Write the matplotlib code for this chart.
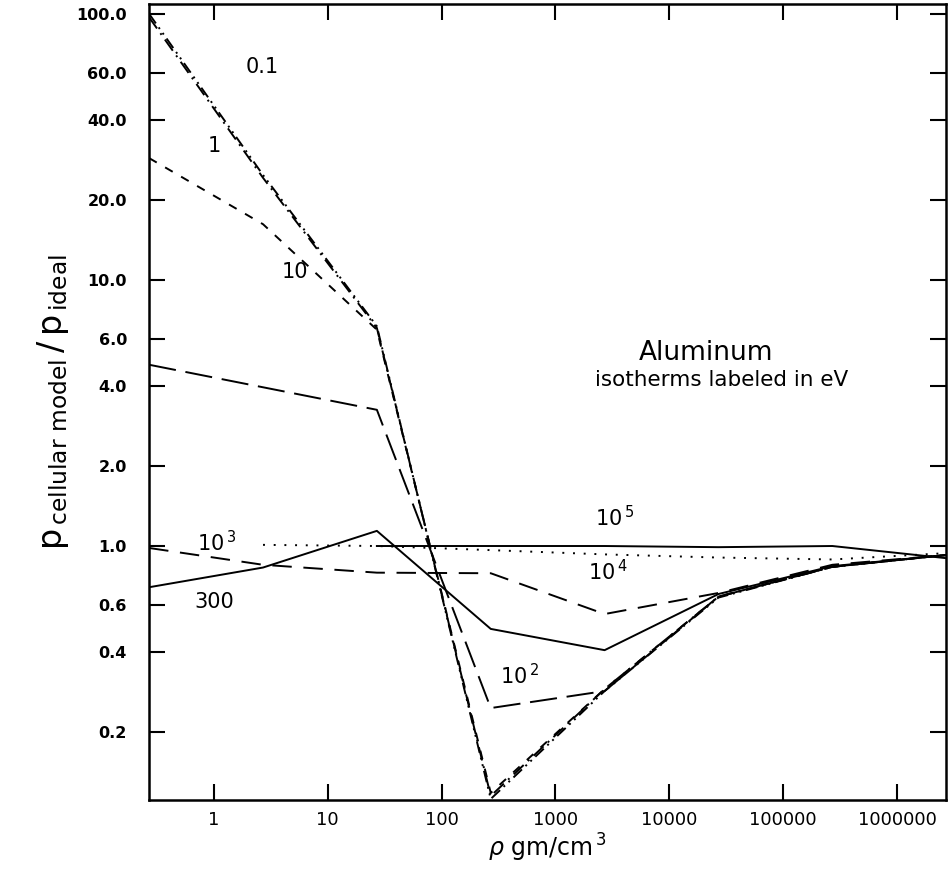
import matplotlib
matplotlib.use("Agg")
import matplotlib.pyplot as plt

plt.rcParams['font.family'] = ['DejaVu Sans']
plt.rcParams['mathtext.fontset'] = 'dejavusans'

# densities (gm/cm^3) where the isotherms were computed
rho = [0.27, 2.7, 27, 270, 2700, 27000, 270000, 2700000]

# pressure ratio p_cellular / p_ideal for each isotherm (eV)
t_0p1 = [100.0, 24.8, 6.7, 0.112, 0.285, 0.64, 0.835, 0.925]
t_1 = [97.0, 24.2, 6.6, 0.115, 0.29, 0.645, 0.835, 0.925]
t_10 = [28.7, 16.2, 6.5, 0.118, 0.29, 0.645, 0.835, 0.925]
t_100 = [4.8, 3.95, 3.25, 0.246, 0.285, 0.645, 0.835, 0.925]
t_300 = [0.70, 0.83, 1.14, 0.488, 0.406, 0.66, 0.84, 0.925]
t_1e3 = [0.983, 0.85, 0.794, 0.79, 0.555, 0.666, 0.85, 0.925]
rho_1e4 = [2.7, 27, 270, 2700, 27000, 270000, 2700000]
t_1e4 = [1.01, 1.0, 0.965, 0.93, 0.905, 0.89, 0.94]
rho_1e5 = [27, 270, 2700, 27000, 270000, 2700000]
t_1e5 = [1.0, 1.0, 1.0, 0.99, 1.0, 0.90]

xticks = [1, 10, 100, 1000, 10000, 100000, 1000000]
yticks = [0.2, 0.4, 0.6, 1.0, 2.0, 4.0, 6.0, 10.0, 20.0, 40.0, 60.0, 100.0]

fig = plt.figure(figsize=(9.5, 8.71), dpi=100)
ax = fig.add_axes([0.157, 0.0815, 0.839, 0.914])

lw = 1.4
ax.plot(rho, t_0p1, color='black', lw=lw, linestyle=(0, (6, 2.5, 1, 2.5, 1, 2.5)))
ax.plot(rho, t_1, color='black', lw=lw, linestyle=(0, (7, 3, 1, 3)))
ax.plot(rho, t_10, color='black', lw=lw, linestyle=(0, (4.5, 5)))
ax.plot(rho, t_100, color='black', lw=lw, linestyle=(0, (14, 5)))
ax.plot(rho, t_300, color='black', lw=lw, linestyle='-')
ax.plot(rho, t_1e3, color='black', lw=lw, linestyle=(0, (10, 6)))
ax.plot(rho_1e4, t_1e4, color='black', lw=lw, linestyle=(0, (1, 4.5)))
ax.plot(rho_1e5, t_1e5, color='black', lw=lw, linestyle='-')

ax.set_xscale('log')
ax.set_yscale('log')
ax.set_xlim(0.27, 2.7e6)
ax.set_ylim(0.111, 109)

ax.set_xticks(xticks)
ax.set_xticklabels([str(v) for v in xticks])
ax.set_yticks(yticks)
ax.set_yticklabels([f'{v:.1f}' for v in yticks], fontweight='bold')
ax.minorticks_off()
ax.tick_params(axis='both', which='major', direction='in', length=11.5, width=1.5,
               top=True, right=True)
ax.tick_params(axis='x', labelsize=13, pad=8)
ax.tick_params(axis='y', labelsize=11.5, pad=16)
for s in ax.spines.values():
    s.set_linewidth(1.8)

# curve labels
lab = dict(fontsize=15, ha='center', va='center')
ax.text(2.64, 63, '0.1', **lab)
ax.text(1.0, 32, '1', **lab)
ax.text(5.1, 10.7, '10', **lab)
ax.text(1.0, 0.615, '300', **lab)
ax.text(1.05, 1.03, r'10$^{\,3}$', **lab)
ax.text(480, 0.325, r'10$^{\,2}$', **lab)
ax.text(3300, 1.28, r'10$^{\,5}$', **lab)
ax.text(2860, 0.80, r'10$^{\,4}$', **lab)

ax.text(21000, 5.3, 'Aluminum', fontsize=19, ha='center', va='center')
ax.text(29000, 4.2, 'isotherms labeled in eV', fontsize=15.5, ha='center', va='center')

ax.set_xlabel(r'$\rho$ gm/cm$^{\,3}$', fontsize=17, labelpad=2)
ax.set_ylabel(r'$\mathrm{p}_{\,\mathrm{cellular\ model}}\,/\,\mathrm{p}_{\,\mathrm{ideal}}$',
              fontsize=24, labelpad=4)

fig.savefig('out.png', dpi=100)
